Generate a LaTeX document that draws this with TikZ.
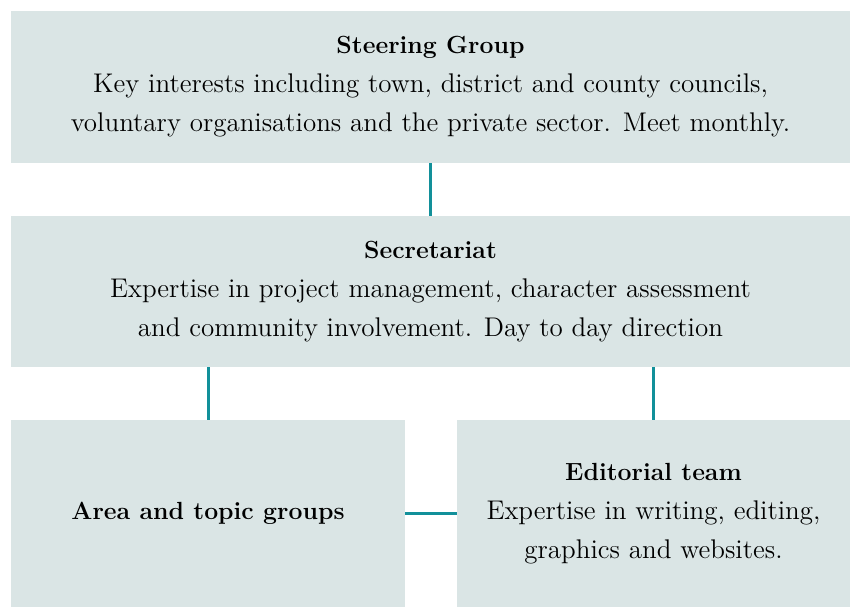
\documentclass[tikz,border=0pt]{standalone}
\usepackage{tikz}
\usetikzlibrary{positioning}
\definecolor{panel}{HTML}{DAE5E5}
\definecolor{tealline}{HTML}{12909A}
\tikzset{
  box/.style={fill=panel, draw=none, align=center, inner sep=0pt, text=black,
              font=\fontsize{13.5}{19.5}\selectfont},
  link/.style={draw=tealline, line width=1.5pt},
}
\newcommand{\boxtitle}[1]{{\fontsize{12.4}{19.5}\selectfont\textbf{#1}}}
\begin{document}
\begin{tikzpicture}[x=0.5pt,y=-0.5pt]
  \useasboundingbox (0,0) rectangle (850,607);
  \node[box, minimum width=419.5pt, minimum height=76pt] (steer) at (430.5,87)
    {\boxtitle{Steering Group}\\Key interests including town, district and county councils,\\voluntary organisations and the private sector. Meet monthly.};
  \node[box, minimum width=419.5pt, minimum height=75.5pt] (secr) at (430.5,291.5)
    {\boxtitle{Secretariat}\\Expertise in project management, character assessment\\and community involvement. Day to day direction};
  \node[box, minimum width=197pt, minimum height=93.5pt] (area) at (208,513.5)
    {\boxtitle{Area and topic groups}};
  \node[box, minimum width=196.5pt, minimum height=93.5pt] (edit) at (653.5,513.5)
    {\boxtitle{Editorial team}\\Expertise in writing, editing,\\graphics and websites.};

  \draw[link] (steer) -- (secr);
  \draw[link] (secr.south -| area.north) -- (area.north);
  \draw[link] (secr.south -| edit.north) -- (edit.north);
  \draw[link] (area) -- (edit);
\end{tikzpicture}
\end{document}
